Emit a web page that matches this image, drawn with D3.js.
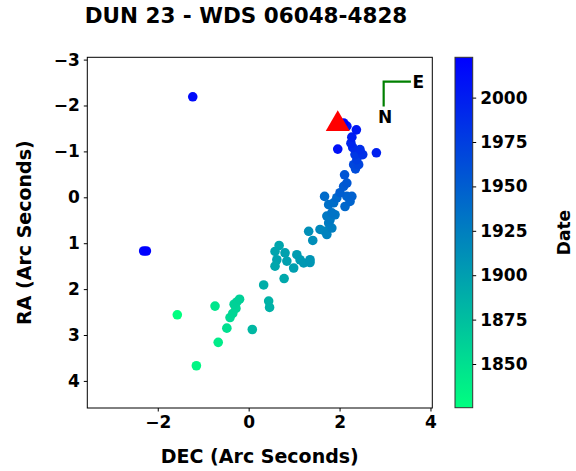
<!DOCTYPE html>
<html>
<head>
<meta charset="utf-8">
<script src="https://cdn.jsdelivr.net/npm/d3@7"></script>
<style>
  html, body { margin: 0; padding: 0; background: #fff; }
  svg { display: block; font-family: "DejaVu Sans", sans-serif; font-weight: bold; }
</style>
</head>
<body>
<svg id="chart" width="576" height="471"></svg>
<script>
// ---- data ----
const dec = [
  -1.57, -1.15, -0.67, -0.74, -0.48, -0.41, -0.35, -0.28, -0.32, -0.26, -0.20,
  0.08, 0.44, 0.46, 0.33,
  0.78, 0.67, 0.58, 0.80, 0.62, 0.58, 0.84, 0.99, 1.06, 1.13, 1.21, 1.35, 1.35,
  1.32, 1.41, 1.57, 1.68, 1.72, 1.83, 1.76, 1.79, 1.72, 1.90, 1.83, 1.76, 1.87,
  1.67, 1.94, 2.12, 2.23, 2.16, 2.27, 2.01, 2.09, 2.16, 2.11,
  2.35, 2.31, 2.42, 2.38, 2.34, 2.51, 2.45, 2.29, 2.25, 2.27, 2.37, 2.16, 1.96,
  2.81, 2.09, -1.23, -2.31, -2.25
];
const ra = [
  2.56, 3.67, 3.16, 2.37, 2.85, 2.62, 2.53, 2.42, 2.33, 2.28, 2.22,
  2.88, 2.26, 2.40, 1.91,
  1.77, 1.05, 1.18, 1.21, 1.36, 1.50, 1.39, 1.54, 1.25, 1.36, 1.43, 1.36, 1.42,
  0.74, 0.94, 0.70, 0.74, 0.81, 0.67, 0.56, 0.49, 0.41, 0.38, 0.34, 0.16, 0.12,
  -0.02, 0.01, 0.20, 0.09, -0.02, -0.02, -0.10, -0.24, -0.31, -0.49,
  -0.62, -0.71, -0.71, -0.82, -0.93, -0.93, -1.04, -1.08, -1.18, -1.31, -1.47, -1.55, -1.05,
  -0.97, -1.62, -2.19, 1.17, 1.17
];
const dates = [
  1825.4, 1832, 1840, 1845, 1850, 1855, 1857, 1858, 1860, 1861, 1862,
  1880, 1885, 1886, 1888,
  1893, 1895, 1896, 1898, 1897, 1894, 1899, 1900, 1902, 1903, 1905, 1908, 1907,
  1912, 1913, 1918, 1920, 1922, 1925, 1927, 1929, 1930, 1932, 1934, 1936, 1938,
  1940, 1942, 1943, 1945, 1947, 1948, 1950, 1952, 1955, 1958,
  1965, 1968, 1970, 1975, 1980, 1985, 1988, 1990, 1995, 2000, 2005, 2008, 2010,
  1998, 2020, 2015, 2019, 2022.7
];
const primary = [1.96, -1.595];          // red triangle (DEC, RA)
const xTicks = [-2, 0, 2, 4];
const yTicks = [-3, -2, -1, 0, 1, 2, 3, 4];
const cTicks = [1850, 1875, 1900, 1925, 1950, 1975, 2000];
const compass = {corner: [2.97, -2.52], east: [3.57, -2.52], north: [2.97, -1.98]};
const titleText = "DUN 23 - WDS 06048-4828";

// ---- layout ----
const svg = d3.select("#chart");
const plot = {left: 87.3, right: 432.3, top: 57.3, bottom: 408};
const cbar = {left: 455, right: 472.7, top: 57.3, bottom: 407.7};

const x = d3.scaleLinear().domain([-3.55, 4.04]).range([plot.left, plot.right]);
const y = d3.scaleLinear().domain([-3.05, 4.59]).range([plot.top, plot.bottom]);
const cExtent = [1825.4, 2022.7];
// winter_r colormap
const cmap = t => d3.rgb(0, 255 * (1 - t), 255 * (0.5 + 0.5 * t));
const cNorm = d3.scaleLinear().domain(cExtent).range([0, 1]).clamp(true);
const color = v => cmap(cNorm(v));
const cy = d3.scaleLinear().domain(cExtent).range([cbar.bottom, cbar.top]);

// title
svg.append("text").attr("x", 246).attr("y", 22.5)
  .attr("text-anchor", "middle").attr("font-size", 21.5).text(titleText);

// clip
svg.append("clipPath").attr("id", "clip").append("rect")
  .attr("x", plot.left).attr("y", plot.top)
  .attr("width", plot.right - plot.left).attr("height", plot.bottom - plot.top);

const g = svg.append("g").attr("clip-path", "url(#clip)");

// points
const pts = dec.map((d, i) => ({dec: d, ra: ra[i], date: dates[i]}));
g.selectAll("circle").data(pts).join("circle")
  .attr("cx", d => x(d.dec)).attr("cy", d => y(d.ra)).attr("r", 4.8)
  .attr("fill", d => color(d.date));

// primary triangle
g.append("path")
  .attr("d", d3.symbol(d3.symbolTriangle, 250)())
  .attr("transform", `translate(${x(primary[0])},${y(primary[1])})`)
  .attr("fill", "red");

// compass
g.append("path")
  .attr("d", d3.line()([
    [x(compass.east[0]), y(compass.east[1])],
    [x(compass.corner[0]), y(compass.corner[1])],
    [x(compass.north[0]), y(compass.north[1])]
  ]))
  .attr("fill", "none").attr("stroke", "green").attr("stroke-width", 2.2);
svg.append("text").attr("x", x(compass.east[0]) + 1.5).attr("y", y(compass.east[1]) + 6)
  .attr("font-size", 17).text("E");
svg.append("text").attr("x", x(compass.north[0]) + 1.5).attr("y", y(compass.north[1]) + 17)
  .attr("text-anchor", "middle").attr("font-size", 17).text("N");

// axes
const fmt = d => d < 0 ? "\u2212" + Math.abs(d) : String(d);
const xAxis = d3.axisBottom(x).tickValues(xTicks).tickSize(3.5).tickPadding(4).tickFormat(fmt);
const yAxis = d3.axisLeft(y).tickValues(yTicks).tickSize(3.5).tickPadding(4).tickFormat(fmt);

const gx = svg.append("g").attr("transform", `translate(0,${plot.bottom})`).call(xAxis);
const gy = svg.append("g").attr("transform", `translate(${plot.left},0)`).call(yAxis);
[gx, gy].forEach(a => {
  a.select(".domain").remove();
  a.selectAll("text").attr("font-size", 17).attr("font-family", "DejaVu Sans").attr("font-weight", "bold").attr("fill", "#000");
  a.selectAll("line").attr("stroke", "#000");
});
gx.selectAll("text").attr("dy", "0.71em");

// frame
svg.append("rect").attr("x", plot.left).attr("y", plot.top)
  .attr("width", plot.right - plot.left).attr("height", plot.bottom - plot.top)
  .attr("fill", "none").attr("stroke", "#000").attr("stroke-width", 1);

// axis labels
svg.append("text").attr("x", (plot.left + plot.right) / 2).attr("y", 463)
  .attr("text-anchor", "middle").attr("font-size", 19).text("DEC (Arc Seconds)");
svg.append("text")
  .attr("transform", `translate(31,${(plot.top + plot.bottom) / 2}) rotate(-90)`)
  .attr("text-anchor", "middle").attr("font-size", 19).text("RA (Arc Seconds)");

// colorbar
const defs = svg.append("defs");
const grad = defs.append("linearGradient").attr("id", "cgrad")
  .attr("x1", 0).attr("y1", 1).attr("x2", 0).attr("y2", 0);
d3.range(0, 1.0001, 0.05).forEach(t => {
  grad.append("stop").attr("offset", t).attr("stop-color", cmap(t));
});
svg.append("rect").attr("x", cbar.left).attr("y", cbar.top)
  .attr("width", cbar.right - cbar.left).attr("height", cbar.bottom - cbar.top)
  .attr("fill", "url(#cgrad)").attr("stroke", "#333").attr("stroke-width", 1);

const cAxis = d3.axisRight(cy).tickValues(cTicks).tickSize(3.5).tickPadding(4).tickFormat(d3.format("d"));
const gc = svg.append("g").attr("transform", `translate(${cbar.right},0)`).call(cAxis);
gc.select(".domain").remove();
gc.selectAll("text").attr("font-size", 17).attr("font-family", "DejaVu Sans").attr("font-weight", "bold").attr("fill", "#000");
gc.selectAll("line").attr("stroke", "#000");

svg.append("text")
  .attr("transform", `translate(570,${(cbar.top + cbar.bottom) / 2}) rotate(-90)`)
  .attr("text-anchor", "middle").attr("font-size", 17).text("Date");
</script>
</body>
</html>
